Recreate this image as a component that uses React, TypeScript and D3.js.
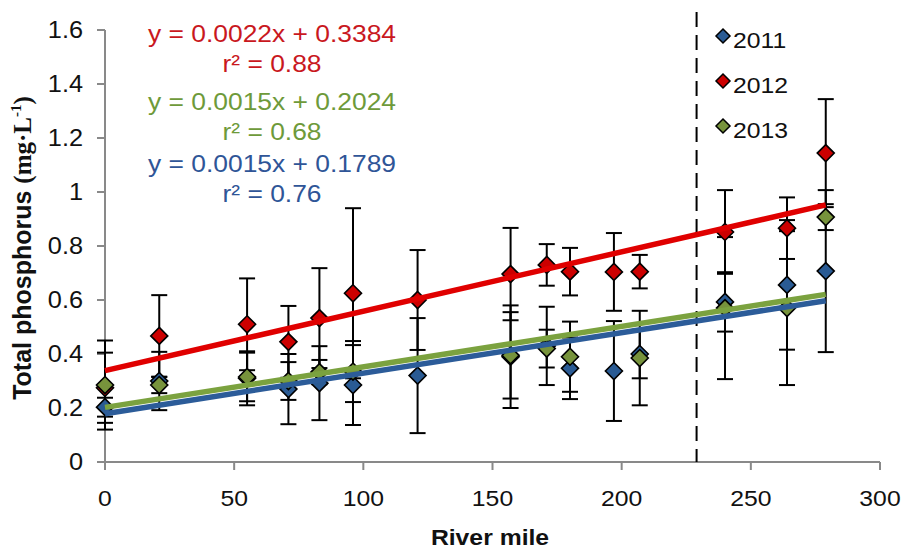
import React from "react";
import * as d3 from "d3";

const riverMile = [0, 21, 55, 71, 83, 96, 121, 157, 171, 180, 197, 207, 240, 264, 279];
const tp2011 = [0.203, 0.30, 0.31, 0.27, 0.292, 0.285, 0.32, 0.39, 0.43, 0.347, 0.337, 0.40, 0.593, 0.656, 0.707];
const sd2011 = [0.035, 0.108, 0.10, 0.13, 0.137, 0.148, 0.213, 0.19, 0.145, 0.114, 0.185, 0.09, 0.11, 0.24, 0.30];
const tp2012 = [0.275, 0.467, 0.51, 0.445, 0.533, 0.625, 0.60, 0.696, 0.73, 0.705, 0.704, 0.705, 0.852, 0.866, 1.144];
const sd2012 = [0.13, 0.151, 0.17, 0.133, 0.185, 0.315, 0.185, 0.171, 0.077, 0.088, 0.144, 0.062, 0.155, 0.114, 0.20];
const tp2013 = [0.285, 0.285, 0.315, 0.30, 0.333, 0.335, null, 0.395, 0.42, 0.39, null, 0.385, 0.57, 0.57, 0.907];
const sd2013 = [0.165, 0.03, 0.09, 0.07, 0.045, 0.113, null, 0.16, 0.07, 0.13, null, 0.175, 0.263, 0.285, 0.048];

const years = ["2011", "2012", "2013"];
const slopes = [0.0015, 0.0022, 0.0015];
const intercepts = [0.1789, 0.3384, 0.2024];
const rSquared = ["0.76", "0.88", "0.68"];

const xTicks = [0, 50, 100, 150, 200, 250, 300];
const yTicks = [0, 0.2, 0.4, 0.6, 0.8, 1, 1.2, 1.4, 1.6];
const boundaryMile = 229;

const markerColors = ["#2A5B94", "#CC0000", "#77933C"];
const lineColors = ["#2C5C99", "#E00000", "#7BA23F"];
const textColors = ["#2F5597", "#C9181E", "#6E9A3A"];

const FONT = "'Liberation Sans', Arial, sans-serif";

function SText({ x, y, size, anchor = "start", color = "#000", bold = false, children }: any) {
  return (
    <text
      transform={`translate(${x},${y}) scale(1.1,1)`}
      fontSize={size}
      fontFamily={FONT}
      textAnchor={anchor}
      fill={color}
      fontWeight={bold ? "bold" : "normal"}
    >
      {children}
    </text>
  );
}

function diamond(cx: number, cy: number, r: number) {
  return `M${cx},${cy - r}L${cx + r},${cy}L${cx},${cy + r}L${cx - r},${cy}Z`;
}

export default function App() {
  const W = 906, H = 550;
  const x = d3.scaleLinear().domain([0, 300]).range([105, 880]);
  const y = d3.scaleLinear().domain([0, 1.6]).range([462, 30]);

  const series = [
    { mean: tp2011, sd: sd2011 },
    { mean: tp2012, sd: sd2012 },
    { mean: tp2013, sd: sd2013 },
  ];
  const maxMile = d3.max(riverMile) as number;
  const line = d3.line<number>().x((d) => x(d[0] as any)).y((d) => y(d[1] as any));

  const axisColor = "#898989";
  const eqY = [172, 42, 110];

  return (
    <svg width={W} height={H} style={{ position: "absolute", left: 0, top: 0, background: "#fff" }}>
      {/* axes */}
      <line x1={x(0)} x2={x(0)} y1={y(1.6)} y2={y(0)} stroke={axisColor} strokeWidth={2} />
      <line x1={x(0) - 8} x2={x(300)} y1={y(0)} y2={y(0)} stroke={axisColor} strokeWidth={2} />
      {yTicks.map((t) => (
        <g key={"y" + t}>
          <line x1={x(0) - 8} x2={x(0)} y1={y(t)} y2={y(t)} stroke={axisColor} strokeWidth={2} />
          <SText x={83} y={y(t) + 8} size={23} anchor="end" color="#111">
            {d3.format("~g")(t)}
          </SText>
        </g>
      ))}
      {xTicks.map((t) => (
        <g key={"x" + t}>
          <line x1={x(t)} x2={x(t)} y1={y(0)} y2={y(0) + 8} stroke={axisColor} strokeWidth={2} />
          <SText x={x(t)} y={506} size={22.5} anchor="middle" color="#111">
            {String(t)}
          </SText>
        </g>
      ))}

      {/* dashed boundary */}
      <line
        x1={x(boundaryMile)}
        x2={x(boundaryMile)}
        y1={12}
        y2={y(0)}
        stroke="#000"
        strokeWidth={2}
        strokeDasharray="15,8"
      />

      {/* error bars and markers */}
      {series.map((s, si) => (
        <g key={"s" + si}>
          {riverMile.map((m, i) => {
            const v = s.mean[i];
            const e = s.sd[i];
            if (v == null || e == null) return null;
            const cx = x(m);
            return (
              <g key={i} stroke="#000" strokeWidth={2}>
                <line x1={cx} x2={cx} y1={y(v + e)} y2={y(v - e)} />
                <line x1={cx - 8} x2={cx + 8} y1={y(v + e)} y2={y(v + e)} />
                <line x1={cx - 8} x2={cx + 8} y1={y(v - e)} y2={y(v - e)} />
              </g>
            );
          })}
        </g>
      ))}
      {series.map((s, si) => (
        <g key={"m" + si}>
          {riverMile.map((m, i) => {
            const v = s.mean[i];
            if (v == null) return null;
            return (
              <path
                key={i}
                d={diamond(x(m), y(v), 8.5)}
                fill={markerColors[si]}
                stroke="#000"
                strokeWidth={1.6}
              />
            );
          })}
        </g>
      ))}

      {/* trend lines */}
      {[0, 1, 2].map((si) => (
        <path
          key={"t" + si}
          d={line([
            [0, intercepts[si]],
            [maxMile, intercepts[si] + slopes[si] * maxMile],
          ] as any) as string}
          stroke={lineColors[si]}
          strokeWidth={5.5}
          fill="none"
        />
      ))}

      {/* equations */}
      {[1, 2, 0].map((si) => (
        <g key={"eq" + si}>
          <SText x={272} y={eqY[si]} size={24} anchor="middle" color={textColors[si]}>
            {`y = ${slopes[si].toFixed(4)}x + ${intercepts[si].toFixed(4)}`}
          </SText>
          <SText x={272} y={eqY[si] + 30} size={24} anchor="middle" color={textColors[si]}>
            {`r² = ${rSquared[si]}`}
          </SText>
        </g>
      ))}

      {/* legend */}
      {years.map((yr, si) => {
        const by = 48 + si * 45;
        return (
          <g key={"lg" + yr}>
            <path d={diamond(723, by - 12, 7)} fill={markerColors[si]} stroke="#000" strokeWidth={1.5} />
            <SText x={733} y={by} size={22.5} color="#111">
              {yr}
            </SText>
          </g>
        );
      })}

      {/* axis titles */}
      <SText x={490} y={545} size={22.5} anchor="middle" bold color="#111">
        River mile
      </SText>
      <text
        transform={`translate(31,248) rotate(-90)`}
        textAnchor="middle"
        fontSize={25}
        fontWeight="bold"
        fill="#111"
      >
        <tspan fontFamily={FONT}>Total phosphorus </tspan>
        <tspan fontFamily="'Liberation Serif', 'Times New Roman', serif">(mg·L</tspan>
        <tspan fontFamily="'Liberation Serif', 'Times New Roman', serif" fontSize={15} dy={-10}>
          -1
        </tspan>
        <tspan fontFamily="'Liberation Serif', 'Times New Roman', serif" dy={10}>
          )
        </tspan>
      </text>
    </svg>
  );
}
